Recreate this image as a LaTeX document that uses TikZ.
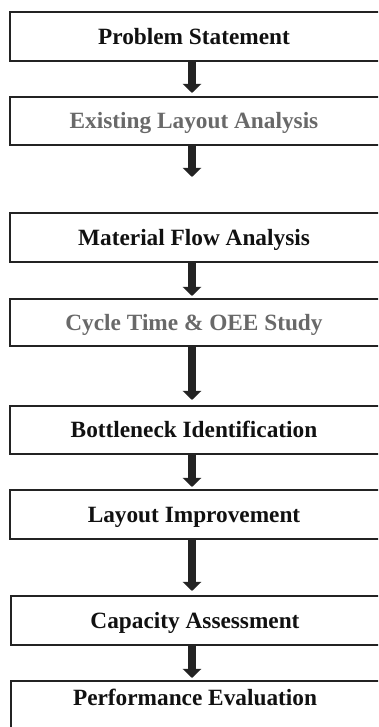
\documentclass[tikz,border=0pt]{standalone}
\usepackage{fontspec}
\setmainfont{Liberation Serif}
\usetikzlibrary{arrows.meta}
\definecolor{linec}{HTML}{232323}
\definecolor{txtdark}{HTML}{111111}
\definecolor{txtgray}{HTML}{696969}
\newcommand\boxtxt[1]{\makebox[368pt]{#1}\hspace*{32pt}}
\tikzset{
  boxst/.style={draw=linec, line width=2.2pt, minimum width=400pt, minimum height=48pt,
    inner xsep=0pt, inner ysep=0pt, outer sep=0pt, anchor=west,
    text height=15.4pt, text depth=0pt,
    font=\fontsize{23.3}{28}\selectfont\bfseries, text=txtdark},
  graytxt/.style={text=txtgray},
  arr/.style={draw=linec, line width=8pt, -{Triangle[width=18pt,length=9pt]}, color=linec}
}
\begin{document}
\begin{tikzpicture}[x=1pt,y=1pt]
\useasboundingbox (0,0) rectangle (378,727);
\clip (0,0) rectangle (378,727);
\fill[white] (0,0) rectangle (378,727);
% boxes (y = 727 - image y)
\node[boxst, minimum height=49pt] (b1) at (10,690.5) {\boxtxt{Problem Statement}};
\node[boxst, graytxt] (b2) at (10,606) {\boxtxt{Existing Layout Analysis}};
\node[boxst, minimum height=49pt] (b3) at (10,489.5) {\boxtxt{Material Flow Analysis}};
\node[boxst, graytxt, minimum height=47pt] (b4) at (10,404.5) {\boxtxt{Cycle Time \& OEE Study}};
\node[boxst] (b5) at (10,297) {\boxtxt{Bottleneck Identification}};
\node[boxst, minimum height=49pt] (b6) at (10,212.5) {\boxtxt{Layout Improvement}};
\node[boxst, minimum height=49pt] (b7) at (11,106.5) {\boxtxt{Capacity Assessment}};
\node[boxst, text depth=14pt] (b8) at (11,22) {\boxtxt{Performance Evaluation}};
% arrow tips
\coordinate (t1) at (192,634);
\coordinate (t2) at (192,550);
\coordinate (t3) at (192,431);
\coordinate (t4) at (192,327);
\coordinate (t5) at (192,240);
\coordinate (t6) at (192,136);
\coordinate (t7) at (192,49);
\draw[arr] (b1.south -| t1) -- (t1);
\draw[arr] (b2.south -| t2) -- (t2);
\draw[arr] (b3.south -| t3) -- (t3);
\draw[arr] (b4.south -| t4) -- (t4);
\draw[arr] (b5.south -| t5) -- (t5);
\draw[arr] (b6.south -| t6) -- (t6);
\draw[arr] (b7.south -| t7) -- (t7);
\end{tikzpicture}
\end{document}
